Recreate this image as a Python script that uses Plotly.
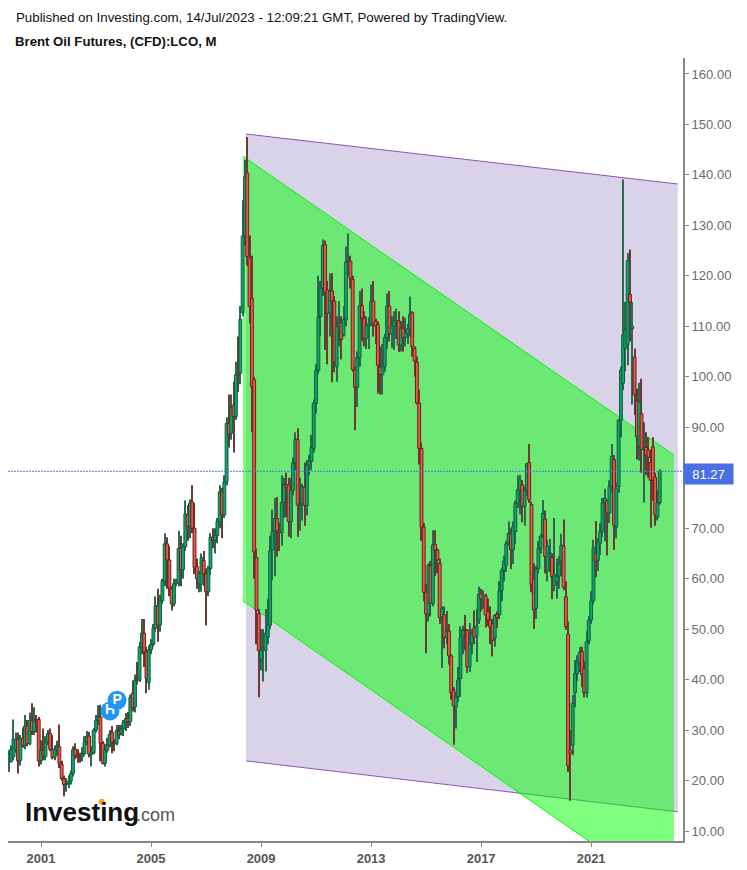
import plotly.graph_objects as go
import pandas as pd

start_month = "1999-11-01"
month_count = 285

opens = [24.4, 23.8,
 24.7, 26.2, 28.2, 24.0, 28.4, 27.0, 30.8, 27.3, 31.9, 29.7, 32.0, 32.1,
 24.0, 26.0, 24.7, 27.6, 29.3, 26.2, 24.6, 26.2, 26.7, 23.3, 20.4, 19.2,
 19.4, 19.9, 21.4, 26.2, 25.0, 24.9, 24.8, 25.3, 27.6, 28.8, 25.2, 25.5,
 30.0, 31.9, 32.6, 27.4, 23.4, 26.0, 27.0, 29.5, 27.6, 27.3, 29.8, 29.4,
 30.2, 31.5, 32.3, 31.7, 37.3, 34.6, 40.2, 39.9, 46.5, 49.2, 45.5, 39.4,
 45.9, 47.0, 50.2, 54.6, 50.8, 55.6, 59.5, 66.9, 63.7, 58.1, 55.0, 59.0,
 59.2, 66.0, 61.8, 66.3, 72.7, 70.4, 75.2, 70.0, 62.4, 59.0, 58.9, 63.6,
 61.0, 57.4, 62.0, 68.2, 67.7, 68.5, 71.3, 77.2, 72.6, 79.2, 90.8, 88.8,
 94.4, 92.1, 100.6, 100.7, 112.7, 127.9, 140.4, 123.5, 115.5, 99.4, 64.2, 53.1,
 44.0, 45.8, 45.7, 48.4, 50.8, 65.7, 69.4, 71.9, 69.6, 69.1, 75.1, 78.6,
 78.6, 71.3, 77.5, 82.9, 87.6, 74.6, 74.9, 78.2, 74.5, 82.5, 83.2, 85.8,
 94.7, 101.2, 111.9, 117.5, 126.2, 117.2, 112.6, 117.0, 115.0, 102.0, 110.0, 110.7,
 108.3, 111.3, 122.7, 122.9, 119.3, 101.4, 97.9, 103.8, 114.1, 111.6, 107.6, 110.1,
 110.5, 115.0, 111.0, 110.4, 101.9, 100.4, 102.0, 107.8, 114.0, 108.5, 110.0, 110.8,
 111.1, 106.3, 109.6, 107.8, 108.6, 109.5, 112.7, 105.6, 102.9, 94.8, 85.8, 70.2,
 57.3, 53.0, 62.6, 55.1, 66.8, 65.7, 63.0, 52.5, 52.9, 48.3, 49.6, 44.7,
 37.9, 34.6, 36.6, 40.2, 48.5, 49.9, 49.8, 42.5, 47.2, 50.2, 48.6, 51.8,
 57.0, 55.8, 56.6, 53.5, 51.8, 51.1, 48.2, 52.9, 52.8, 57.6, 61.6, 62.7,
 66.9, 69.0, 65.7, 69.3, 74.9, 77.4, 78.6, 74.3, 77.5, 83.0, 74.7, 60.0,
 54.1, 62.0, 66.0, 68.6, 71.8, 61.5, 65.0, 64.2, 58.7, 59.4, 60.5, 63.5,
 66.5, 56.4, 48.9, 26.0, 27.0, 37.4, 41.2, 43.3, 45.6, 42.2, 37.4, 47.7,
 51.8, 55.6, 65.0, 63.6, 67.0, 69.3, 75.0, 75.5, 73.0, 78.3, 83.6, 70.2,
 78.2, 91.4, 98.7, 105.6, 106.4, 116.3, 109.5, 103.9, 95.2, 86.1, 92.7, 85.6,
 86.0, 85.5, 83.0, 86.1, 80.1, 72.1, 75.1]

closes = [25.0, 26.2,
 28.2, 28.1, 23.9, 28.4, 27.0, 30.8, 27.3, 31.9, 29.7, 32.0, 31.6, 23.9,
 26.0, 24.8, 27.6, 29.3, 26.2, 24.6, 26.2, 26.7, 23.4, 20.4, 19.2, 19.4,
 19.9, 21.4, 26.1, 25.0, 24.6, 24.7, 25.3, 27.6, 28.8, 25.2, 25.5, 30.0,
 31.9, 32.7, 27.4, 23.4, 26.0, 27.0, 29.2, 27.6, 27.3, 29.9, 29.2, 30.2,
 31.5, 32.3, 31.7, 36.5, 34.4, 39.9, 39.9, 46.5, 49.2, 45.5, 40.2, 45.9,
 47.0, 50.2, 54.6, 50.8, 55.6, 59.5, 66.9, 63.7, 58.1, 55.0, 59.0, 59.5,
 66.0, 61.8, 66.3, 72.8, 70.4, 74.9, 70.0, 62.1, 60.0, 61.0, 64.2, 61.0,
 57.4, 62.0, 68.2, 67.7, 68.5, 71.3, 77.2, 72.6, 79.2, 90.8, 88.6, 93.9,
 92.1, 100.4, 100.3, 111.4, 127.9, 139.6, 123.8, 113.9, 98.0, 65.3, 53.7, 45.7,
 45.8, 46.2, 49.2, 50.8, 65.5, 69.4, 71.9, 69.4, 69.1, 75.1, 78.6, 78.1,
 71.3, 77.5, 82.9, 87.6, 74.6, 74.9, 78.2, 74.5, 82.5, 83.2, 86.0, 94.8,
 101.2, 111.8, 117.5, 126.0, 116.7, 112.6, 117.0, 115.0, 102.9, 110.0, 110.7, 107.4,
 111.3, 122.7, 122.9, 119.5, 101.4, 97.9, 103.8, 114.1, 111.6, 107.6, 110.1, 110.5,
 114.9, 110.5, 110.0, 102.3, 100.4, 102.0, 107.8, 114.0, 108.5, 110.0, 111.2, 111.1,
 106.3, 109.6, 107.8, 108.6, 109.5, 112.4, 106.0, 103.1, 94.8, 85.8, 70.2, 57.3,
 53.0, 62.6, 55.1, 66.7, 65.7, 63.7, 52.3, 54.1, 48.3, 49.5, 44.7, 37.4,
 34.8, 36.6, 39.9, 48.2, 49.9, 49.7, 42.5, 47.2, 49.2, 48.4, 50.6, 56.9,
 56.0, 56.7, 52.8, 51.8, 50.3, 47.8, 52.7, 52.3, 57.6, 61.6, 63.4, 66.9,
 69.0, 65.7, 70.3, 75.0, 77.6, 79.5, 74.3, 77.5, 82.8, 75.6, 58.7, 53.8,
 62.0, 66.0, 68.4, 72.9, 64.4, 66.5, 65.2, 60.4, 60.8, 60.5, 62.9, 66.6,
 58.3, 50.5, 22.9, 25.4, 35.3, 41.2, 43.4, 45.4, 41.0, 37.4, 47.5, 51.8,
 55.6, 66.2, 63.4, 67.3, 69.3, 75.0, 75.9, 73.0, 78.3, 84.2, 70.6, 77.8,
 91.4, 101.3, 108.3, 109.4, 123.0, 114.8, 110.0, 96.4, 88.1, 95.0, 85.6, 85.9,
 84.5, 84.0, 79.5, 79.5, 72.6, 75.0, 81.27]

highs = [26.0, 27.0,
 32.1, 29.5, 29.5, 29.0, 30.5, 33.0, 32.0, 33.5, 35.3, 34.5, 33.0, 32.6,
 28.0, 30.3, 28.8, 30.0, 30.3, 29.0, 27.0, 27.9, 31.1, 23.9, 21.0, 20.5,
 21.0, 22.0, 26.8, 27.4, 26.2, 25.5, 26.6, 28.8, 29.8, 29.6, 26.8, 30.4,
 33.0, 34.9, 35.0, 27.8, 27.2, 28.5, 30.0, 30.8, 28.2, 31.0, 31.0, 31.0,
 32.0, 33.4, 33.6, 37.0, 39.8, 41.0, 43.5, 47.5, 52.0, 52.0, 46.5, 46.8,
 48.0, 51.0, 56.5, 58.0, 56.8, 60.0, 69.0, 68.2, 66.5, 58.5, 60.0, 60.0,
 69.5, 68.5, 67.0, 75.5, 74.6, 75.7, 78.5, 75.0, 64.0, 61.5, 65.0, 65.5,
 62.0, 62.5, 69.0, 70.0, 70.0, 72.0, 78.5, 78.0, 80.5, 92.0, 96.5, 96.5,
 99.0, 103.0, 108.0, 114.0, 135.0, 143.0, 147.5, 128.0, 124.0, 100.0, 66.0, 54.0,
 50.0, 50.0, 54.0, 56.0, 68.5, 73.7, 76.0, 76.2, 71.0, 80.5, 80.0, 81.0,
 80.0, 80.0, 84.0, 89.0, 89.8, 80.0, 78.8, 83.0, 83.5, 84.5, 88.5, 95.5,
 102.5, 120.0, 119.0, 127.2, 127.0, 119.0, 120.5, 120.5, 116.0, 112.0, 115.0, 112.0,
 114.0, 125.8, 128.4, 124.0, 120.0, 102.0, 105.0, 117.0, 117.5, 113.0, 112.0, 111.8,
 118.3, 119.0, 111.5, 111.0, 106.0, 106.5, 108.5, 116.5, 117.0, 112.0, 113.0, 113.5,
 113.0, 111.0, 112.0, 111.7, 110.5, 115.9, 113.0, 106.0, 104.0, 97.5, 87.0, 71.0,
 59.0, 63.0, 63.5, 69.6, 69.6, 66.0, 64.0, 54.5, 54.5, 53.6, 51.0, 45.0,
 38.5, 37.5, 42.5, 50.5, 50.7, 52.8, 50.0, 51.2, 50.0, 53.7, 54.0, 58.4,
 58.0, 57.7, 57.0, 56.0, 54.5, 52.0, 53.0, 53.5, 59.5, 62.2, 64.6, 67.5,
 71.3, 70.0, 71.3, 75.5, 80.5, 80.5, 79.5, 78.2, 82.9, 86.7, 75.3, 63.0,
 62.5, 67.4, 68.9, 75.6, 73.5, 67.7, 67.9, 65.0, 72.0, 64.0, 64.5, 68.9,
 71.7, 59.5, 51.5, 30.0, 37.0, 43.9, 44.8, 46.5, 46.5, 43.7, 49.7, 52.6,
 57.5, 67.7, 71.4, 68.0, 71.0, 76.0, 77.8, 75.5, 79.5, 86.7, 84.5, 79.0,
 91.7, 102.0, 139.1, 114.8, 124.5, 125.2, 114.8, 105.6, 97.7, 98.8, 99.6, 91.0,
 89.0, 88.0, 85.5, 88.0, 81.0, 77.5, 81.7]

lows = [21.7, 23.5,
 24.0, 25.5, 21.4, 23.0, 26.5, 26.2, 26.8, 27.0, 29.0, 29.0, 29.5, 22.8,
 23.2, 24.0, 24.0, 27.0, 25.8, 24.2, 24.0, 25.0, 22.5, 19.9, 16.9, 17.8,
 18.5, 19.2, 20.8, 24.2, 23.5, 23.5, 23.8, 24.8, 27.0, 24.6, 22.8, 25.2,
 29.5, 31.0, 23.8, 23.2, 22.8, 25.5, 26.6, 25.4, 25.8, 27.0, 28.2, 28.9,
 28.8, 29.8, 30.4, 30.8, 33.7, 33.5, 39.0, 39.5, 45.0, 42.5, 37.3, 38.0,
 45.0, 46.5, 49.5, 47.5, 49.5, 55.0, 58.5, 58.0, 56.5, 53.7, 54.5, 58.5,
 58.5, 58.5, 60.0, 65.5, 67.5, 68.0, 69.0, 60.9, 58.0, 57.3, 57.4, 58.5,
 50.7, 56.5, 60.7, 66.0, 65.0, 67.0, 70.0, 68.0, 72.0, 78.5, 86.0, 87.5,
 85.0, 91.5, 97.0, 98.5, 112.0, 126.0, 122.0, 110.6, 89.0, 60.0, 47.0, 36.5,
 41.8, 39.6, 41.6, 47.0, 50.0, 59.7, 60.5, 64.4, 65.5, 66.5, 72.0, 72.2,
 68.3, 68.0, 76.5, 81.5, 68.3, 69.5, 71.5, 70.5, 72.5, 80.5, 81.5, 85.0,
 92.7, 100.5, 108.0, 116.0, 105.3, 102.5, 108.0, 98.9, 100.9, 99.0, 106.0, 103.4,
 108.0, 110.0, 120.0, 117.5, 101.0, 89.4, 94.0, 102.0, 107.0, 106.0, 105.5, 105.5,
 110.0, 108.0, 106.5, 96.7, 96.5, 96.5, 101.0, 105.5, 107.0, 105.7, 105.3, 107.5,
 104.9, 105.0, 105.0, 106.0, 106.5, 108.0, 104.0, 100.0, 94.5, 82.6, 67.5, 55.5,
 45.2, 51.5, 52.5, 54.5, 60.5, 61.0, 51.0, 42.3, 46.2, 47.0, 43.0, 36.0,
 27.1, 30.3, 35.5, 36.6, 45.0, 45.8, 41.3, 41.5, 45.0, 47.0, 43.5, 51.0,
 53.5, 54.0, 50.3, 50.6, 47.0, 44.6, 46.5, 50.2, 52.0, 55.5, 59.5, 61.3,
 66.5, 61.9, 62.9, 66.8, 74.0, 72.7, 71.2, 70.5, 76.4, 75.0, 57.3, 50.0,
 52.0, 61.0, 65.0, 68.0, 61.0, 59.5, 61.3, 55.9, 57.5, 56.0, 58.0, 60.5,
 57.7, 49.9, 21.7, 16.0, 25.0, 34.5, 39.6, 41.5, 38.5, 36.5, 36.4, 47.0,
 51.0, 54.9, 60.3, 61.5, 64.7, 68.2, 67.4, 64.6, 71.0, 77.0, 65.7, 68.0,
 77.0, 88.0, 97.4, 101.1, 102.3, 107.0, 94.5, 92.4, 83.6, 83.4, 81.0, 75.1,
 80.5, 80.0, 70.1, 75.5, 70.5, 71.5, 74.7]

dates = pd.date_range(start_month, periods=month_count, freq="MS")

last_price = 81.27
price_ticks = [10, 20, 30, 40, 50, 60, 70, 90, 100, 110, 120, 130, 140, 150, 160]
year_ticks = ["2001-01-01", "2005-01-01", "2009-01-01", "2013-01-01", "2017-01-01", "2021-01-01"]

# drawn channels: [start date, end date], upper and lower price at each end
purple_dates = ["2008-06-15", "2024-02-25"]
purple_upper = [148.1, 138.2]
purple_lower = [23.9, 13.8]
green_dates = ["2008-05-05", "2024-01-05"]
green_upper = [143.7, 84.5]
green_lower = [55.6, -3.7]

event_h = dict(x=["2003-07-05"], y=[33.8], label=["H"])
event_p = dict(x=["2003-10-08"], y=[35.9], label=["P"])

FONT = "Liberation Sans"
GRAY = "#6b6b6b"
DAY_MS = 86400000
UP_FILL, UP_EDGE, UP_WICK = "#10a468", "#125c3f", "#2b6a50"
DOWN_FILL, DOWN_EDGE, DOWN_WICK = "#ea5a4b", "#701c1c", "#6e3a36"


def band(xs, up, lo, fill):
    return dict(type="path", xref="x", yref="y", layer="below", line=dict(width=0), fillcolor=fill,
                path=f"M {xs[0]} {up[0]} L {xs[1]} {up[1]} L {xs[1]} {lo[1]} L {xs[0]} {lo[0]} Z")


def edge(xs, ys, color):
    return dict(type="line", xref="x", yref="y", layer="below", x0=xs[0], x1=xs[1], y0=ys[0], y1=ys[1],
                line=dict(color=color, width=1))


rising = [c >= o for o, c in zip(opens, closes)]

fig = go.Figure()
# wicks, then bodies, both as floating bars so the bodies keep the reference's width
fig.add_trace(go.Bar(
    x=dates, base=lows, y=[h - l for h, l in zip(highs, lows)], width=14 * DAY_MS,
    marker=dict(color=[UP_WICK if r else DOWN_WICK for r in rising], line=dict(width=0)),
    showlegend=False, hoverinfo="skip"))
fig.add_trace(go.Bar(
    x=dates, base=[min(o, c) for o, c in zip(opens, closes)], y=[abs(o - c) for o, c in zip(opens, closes)],
    width=38 * DAY_MS,
    marker=dict(color=[UP_FILL if r else DOWN_FILL for r in rising],
                line=dict(color=[UP_EDGE if r else DOWN_EDGE for r in rising], width=1)),
    showlegend=False, hoverinfo="skip"))
for ev in (event_h, event_p):
    fig.add_trace(go.Scatter(
        x=ev["x"], y=ev["y"], mode="markers+text", text=ev["label"], textposition="middle center",
        textfont=dict(family=FONT, size=14, color="white", weight="bold"),
        marker=dict(size=19, color="#2196f3"), showlegend=False, hoverinfo="skip"))

shapes = [
    band(purple_dates, purple_upper, purple_lower, "rgba(99,79,167,0.25)"),
    edge(purple_dates, purple_upper, "#8e55b5"),
    edge(purple_dates, purple_lower, "#8e55b5"),
    band(green_dates, green_upper, green_lower, "rgba(0,255,0,0.5)"),
    edge(green_dates, green_upper, "#00f800"),
    edge(green_dates, green_lower, "#00f800"),
    dict(type="line", xref="paper", yref="y", x0=0, x1=1, y0=last_price, y1=last_price,
         line=dict(color="#4f74ea", width=1, dash="2px,1px")),
    dict(type="line", xref="paper", yref="paper", x0=1.0837, x1=1.0837, y0=-0.037, y1=1.0,
         line=dict(color="#000000", width=1)),
    dict(type="circle", xref="paper", yref="paper", x0=0.1344, x1=0.1432, y0=0.0464, y1=0.0540,
         fillcolor="#f7a51d", line=dict(width=0)),
]

annotations = [
    dict(text="Published on Investing.com, 14/Jul/2023 - 12:09:21 GMT, Powered by TradingView.",
         xref="paper", yref="paper", x=0.0096, y=1.0511, xanchor="left", yanchor="middle", showarrow=False,
         font=dict(family=FONT, size=13.3, color="#111111")),
    dict(text="<b>Brent Oil Futures, (CFD):LCO, M</b>",
         xref="paper", yref="paper", x=0.0074, y=1.0217, xanchor="left", yanchor="middle", showarrow=False,
         font=dict(family=FONT, size=13.2, color="#111111")),
    dict(text="<b>Investing</b>", xref="paper", yref="paper", x=0.0222, y=0.0364, xanchor="left", yanchor="middle",
         showarrow=False, font=dict(family=FONT, size=26, color="#111111")),
    dict(text=".com", xref="paper", yref="paper", x=0.1866, y=0.0332, xanchor="left", yanchor="middle",
         showarrow=False, font=dict(family=FONT, size=18, color="#555555")),
    dict(text=f"{last_price:.2f}", xref="paper", yref="y", x=1.0, y=last_price - 0.53, xanchor="left", yanchor="middle",
         showarrow=False, bgcolor="#4a6fe3", width=49, height=20, borderpad=0,
         font=dict(family=FONT, size=13, color="white")),
]

fig.update_layout(
    width=739, height=862, autosize=False,
    margin=dict(l=0, r=64, t=50, b=29),
    paper_bgcolor="white", plot_bgcolor="white", barmode="overlay", showlegend=False,
    font=dict(family=FONT),
    shapes=shapes, annotations=annotations,
    xaxis=dict(type="date", range=["1999-10-20", "2024-05-05"], tickvals=year_ticks, tickformat="%Y",
               showgrid=False, zeroline=False, showline=True, linecolor="#888888",
               linewidth=2, ticks="outside", ticklen=4, tickcolor="#888888",
               tickfont=dict(family=FONT, size=13, color="#555555", weight="bold")),
    yaxis=dict(range=[8.02, 163.16], side="right", tickvals=price_ticks, tickformat=".2f", showgrid=False,
               zeroline=False, showline=True, linecolor="#888888", linewidth=2, ticks="outside", ticklen=4,
               tickcolor="#888888", tickfont=dict(family=FONT, size=13, color=GRAY)),
)

fig.write_html("out.html", config=dict(displayModeBar=False))
